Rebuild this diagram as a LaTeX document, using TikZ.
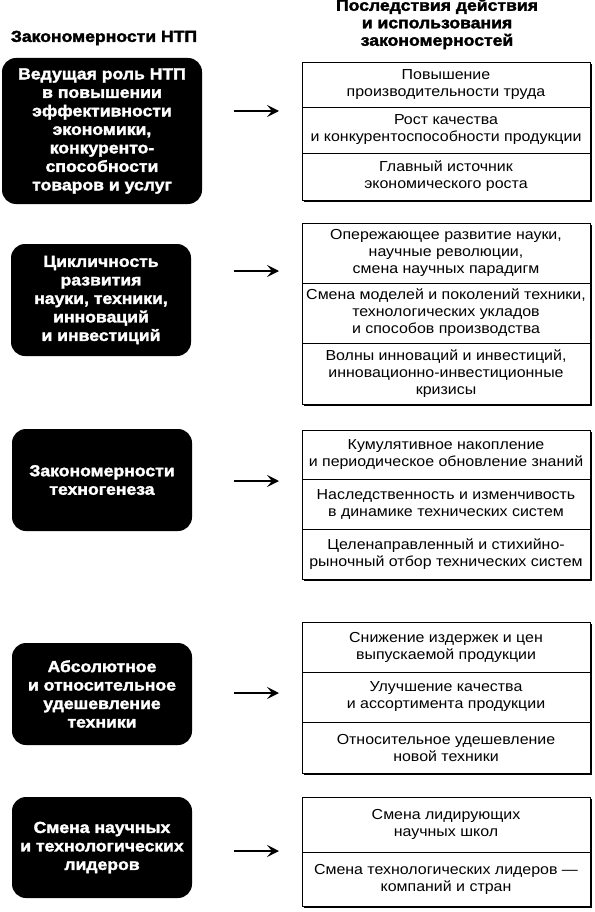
\documentclass[tikz,border=0pt]{standalone}
\usepackage{fontspec}
\setmainfont{Liberation Sans}[FakeStretch=1.1]
\newfontfamily\heavyfont{Liberation Sans Bold}[FakeBold=2, FakeStretch=1.1]
\usetikzlibrary{positioning, shadows, arrows.meta}

\begin{document}
\begin{tikzpicture}[
    x=1pt, y=-1pt,
    node distance=0pt, % rows stacked edge to edge
    lawbox/.style={fill=black, rounded corners=14pt, text=white, align=center, inner sep=0pt,
        minimum width=180pt, font=\heavyfont\fontsize{16}{18.5}\selectfont},
    effect/.style={draw, fill=white, line width=0.8pt, outer sep=0pt, inner ysep=1pt,
        minimum width=288pt, align=center, font=\fontsize{14.5}{17}\selectfont,
        drop shadow={shadow xshift=2pt, shadow yshift=-2pt, fill=black, opacity=1}},
    header/.style={align=center, font=\heavyfont\fontsize{16}{17.5}\selectfont},
    trend/.style={-{Stealth[length=12pt, width=12pt, inset=5pt]}, line width=2.2pt}
]
\useasboundingbox (0,0) rectangle (594,912);

%%%%% Headers
\node[header] (hlaw) at (104,38) {Закономерности НТП};
\node[header] (heff) at (437,24) {Последствия действия\\и использования\\закономерностей};

%%%%% Laws of scientific and technical progress
\node[lawbox, minimum width=200pt, minimum height=146pt] (law1) at (102,131)
    {Ведущая роль НТП\\в повышении\\эффективности\\экономики,\\конкуренто-\\способности\\товаров и услуг};
\node[lawbox, minimum height=112pt] (law2) at (101,300)
    {Цикличность\\развития\\науки, техники,\\инноваций\\и инвестиций};
\node[lawbox, minimum height=102pt] (law3) at (102,480)
    {Закономерности\\техногенеза};
\node[lawbox, minimum height=102pt] (law4) at (102,694)
    {Абсолютное\\и относительное\\удешевление\\техники};
\node[lawbox, minimum height=101pt] (law5) at (102,847.5)
    {Смена научных\\и технологических\\лидеров};

%%%%% Consequences
% group 1
\node[effect, anchor=north, minimum height=45pt] (e1a) at (446,62)
    {Повышение\\производительности труда};
\node[effect, below=of e1a, minimum height=46pt] (e1b)
    {Рост качества\\и конкурентоспособности продукции};
\node[effect, below=of e1b, minimum height=47pt] (e1c)
    {Главный источник\\экономического роста};

% group 2
\node[effect, anchor=north, minimum height=60pt] (e2a) at (446,223)
    {Опережающее развитие науки,\\научные революции,\\смена научных парадигм};
\node[effect, below=of e2a, minimum height=60pt] (e2b)
    {Смена моделей и поколений техники,\\технологических укладов\\и способов производства};
\node[effect, below=of e2b, minimum height=61pt] (e2c)
    {Волны инноваций и инвестиций,\\инновационно-инвестиционные\\кризисы};

% group 3
\node[effect, anchor=north, minimum height=49pt] (e3a) at (446,430)
    {Кумулятивное накопление\\и периодическое обновление знаний};
\node[effect, below=of e3a, minimum height=50pt] (e3b)
    {Наследственность и изменчивость\\в динамике технических систем};
\node[effect, below=of e3b, minimum height=50pt] (e3c)
    {Целенаправленный и стихийно-\\рыночный отбор технических систем};

% group 4
\node[effect, anchor=north, minimum height=50pt] (e4a) at (446,622)
    {Снижение издержек и цен\\выпускаемой продукции};
\node[effect, below=of e4a, minimum height=50pt] (e4b)
    {Улучшение качества\\и ассортимента продукции};
\node[effect, below=of e4b, minimum height=51pt] (e4c)
    {Относительное удешевление\\новой техники};

% group 5
\node[effect, anchor=north, minimum height=55pt] (e5a) at (446,797)
    {Смена лидирующих\\научных школ};
\node[effect, below=of e5a, minimum height=54pt] (e5b)
    {Смена технологических лидеров —\\компаний и стран};

%%%%% Arrows
\coordinate (t1) at (234,111); \coordinate (h1) at (279,111);
\coordinate (t2) at (234,271); \coordinate (h2) at (279,271);
\coordinate (t3) at (234,481); \coordinate (h3) at (279,481);
\coordinate (t4) at (234,693); \coordinate (h4) at (279,693);
\coordinate (t5) at (234,851); \coordinate (h5) at (279,851);

\draw[trend] (t1) -- (h1);
\draw[trend] (t2) -- (h2);
\draw[trend] (t3) -- (h3);
\draw[trend] (t4) -- (h4);
\draw[trend] (t5) -- (h5);

\end{tikzpicture}
\end{document}
